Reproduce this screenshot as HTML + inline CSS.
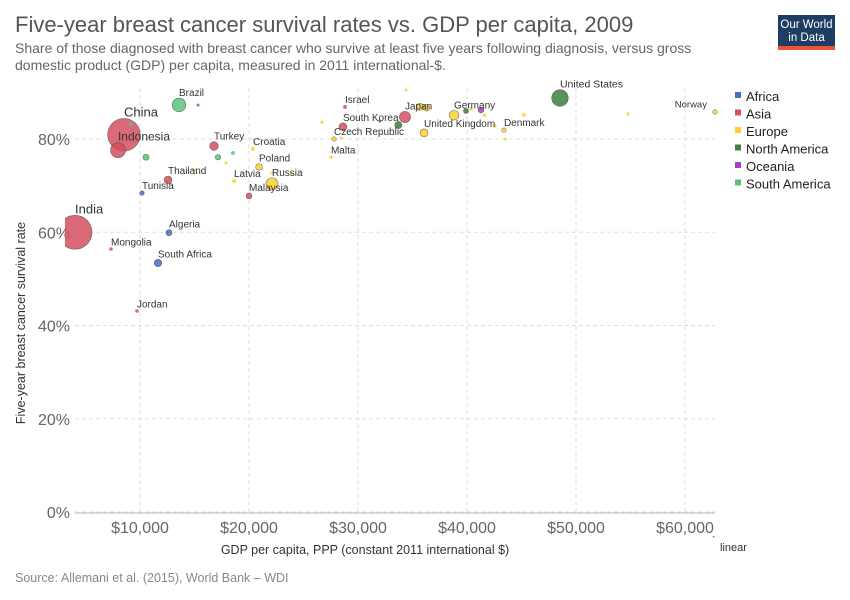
<!DOCTYPE html>
<html><head><meta charset="utf-8"><style>
body{margin:0;background:#fff;font-family:"Liberation Sans",sans-serif;}
svg{display:block}
</style></head><body>
<svg id="chart" width="850" height="600" xmlns="http://www.w3.org/2000/svg" font-family="Liberation Sans, sans-serif">
<defs><clipPath id="plotclip"><rect x="65" y="80" width="660" height="440"/></clipPath></defs>
<text x="15" y="32" font-size="22" fill="#555">Five-year breast cancer survival rates vs. GDP per capita, 2009</text>
<text x="15" y="53" font-size="14" fill="#666">Share of those diagnosed with breast cancer who survive at least five years following diagnosis, versus gross</text>
<text x="15" y="70" font-size="14" fill="#666">domestic product (GDP) per capita, measured in 2011 international-$.</text>
<g>
<rect x="778" y="15" width="57" height="35" fill="#1d3d63"/>
<rect x="778" y="46" width="57" height="4" fill="#e9543a"/>
<text x="806.5" y="28" font-size="11.5" fill="#fff" text-anchor="middle">Our World</text>
<text x="806.5" y="41" font-size="11.5" fill="#fff" text-anchor="middle">in Data</text>
</g>
<g id="grid"></g>
<g id="points" clip-path="url(#plotclip)"></g>
<g id="labels"></g>
<text x="365" y="554" font-size="12.5" fill="#333" text-anchor="middle">GDP per capita, PPP (constant 2011 international $)</text>
<text transform="translate(25,323) rotate(-90)" font-size="12.5" fill="#333" text-anchor="middle">Five-year breast cancer survival rate</text>
<g><text x="712" y="544" font-size="11" fill="#333">ˋ</text><text x="720" y="551" font-size="11" fill="#333">linear</text></g>
<text x="15" y="582" font-size="12.5" fill="#888">Source: Allemani et al. (2015), World Bank – WDI</text>
<g id="legend"></g>
</svg>
<script>
const regions=["Africa","Asia","Europe","North America","Oceania","South America"];
const regionColors=["#4a6fc0","#d4505f","#fcd12e","#3c803c","#a541c0","#5ec27c"];
const xTicks=[10000,20000,30000,40000,50000,60000];
const xTickLabels=["$10,000","$20,000","$30,000","$40,000","$50,000","$60,000"];
const yTicks=[0,20,40,60,80];
const yTickLabels=["0%","20%","40%","60%","80%"];
const names=["India","China","Indonesia","Mongolia","Jordan","Tunisia","South Africa","Algeria","Thailand","","","Brazil","","Turkey","","","","Croatia","Poland","Latvia","Russia","Malaysia","","","Malta","Czech Republic","","Israel","South Korea","","","","","Japan","","","United Kingdom","Germany","","","","","","Denmark","","","United States","","Norway",""];
const gdp=[4040,8530,7980,7340,9720,10180,11650,12660,12570,9170,10550,13580,15320,16790,17160,18530,17890,20370,20920,18620,22110,20000,22100,23900,27520,27800,28450,28810,28620,26700,34400,32000,33700,34310,35660,36300,36060,38810,39910,40370,41280,41600,42560,43390,43530,45200,48530,54770,62750,14950];
const rate=[60.0,80.9,77.6,56.4,43.1,68.4,53.4,59.9,71.2,83.2,76.1,87.3,87.3,78.5,76.1,77.0,74.9,77.9,74.0,71.0,70.4,67.8,72.7,72.5,76.1,80.0,80.2,86.9,82.6,83.6,90.5,83.8,83.0,84.7,86.9,86.7,81.3,85.1,86.0,86.4,86.2,85.1,82.8,81.9,80.0,85.2,88.8,85.4,85.8,73.3];
const pop=[920,850,180,10,10,16,45,30,50,12,30,150,3,60,25,12,8,12,35,12,115,28,5,5,10,16,5,12,50,8,5,5,40,100,40,35,50,75,20,10,25,10,10,16,5,12,220,8,16,5];
const region=[1,1,1,1,1,0,0,0,1,5,5,5,0,1,5,5,2,2,2,2,2,1,2,2,2,2,2,1,1,2,2,4,3,1,2,2,2,2,3,2,4,2,2,2,2,2,3,2,2,2];
const labelSize=[13,13,12,10,10,10,10,10,10,0,0,10,0,10,0,0,0,10,10,10,10,10,0,0,10,10,0,10,10,0,0,0,0,10,0,0,10,10,0,0,0,0,0,10,0,0,10.5,0,9.5,0];
const NS="http://www.w3.org/2000/svg";
const L=65,R=715,T=88,B=512;
function xs(v){return 140+(v-10000)*0.0109;}
function ys(v){return B-v*4.6625;}
function rs(p){return Math.max(1.5,Math.sqrt(p)*0.56);}
function mk(t,a){const e=document.createElementNS(NS,t);for(const k in a)e.setAttribute(k,a[k]);return e;}
const grid=document.getElementById('grid');
yTicks.forEach((v,i)=>{
 const l=mk('line',{x1:L+10,x2:R,y1:ys(v),y2:ys(v),stroke:'#ddd','stroke-dasharray':'4,3'});
 
 
 grid.appendChild(l);
 const t=mk('text',{x:70,y:ys(v)+6,'font-size':16,fill:'#666','text-anchor':'end'});t.textContent=yTickLabels[i];
 
 
 grid.appendChild(t);
});
xTicks.forEach((v,i)=>{
 const l=mk('line',{x1:xs(v),x2:xs(v),y1:T,y2:B,stroke:'#ddd','stroke-dasharray':'4,3'});
 
 
 grid.appendChild(l);
 const t=mk('text',{x:xs(v),y:533,'font-size':16,fill:'#666','text-anchor':'middle'});t.textContent=xTickLabels[i];
 
 
 grid.appendChild(t);
});
const bl=mk('line',{x1:L+10,x2:R,y1:B+1,y2:B+1,stroke:'#bbb'});


grid.appendChild(bl);
const pts=document.getElementById('points'),lab=document.getElementById('labels');
const order=gdp.map((_,i)=>i).sort((a,b)=>pop[b]-pop[a]);
order.forEach(i=>{
 const r=rs(pop[i]);
 const c=mk('circle',{cx:xs(gdp[i]),cy:ys(rate[i]),r:r,fill:regionColors[region[i]],'fill-opacity':0.85,stroke:r>2?'#444':'none','stroke-width':0.6,'stroke-opacity':0.7});
 
 
 pts.appendChild(c);
 if(names[i]&&labelSize[i]){
  const anchorEnd=names[i]==="Norway";
  const t=mk('text',{x:xs(gdp[i])+(anchorEnd?-8:0),y:ys(rate[i])-r-2,'font-size':labelSize[i],fill:'#333','text-anchor':anchorEnd?'end':'start'});
  t.textContent=names[i];
  
  
  lab.appendChild(t);
 }
});
const lg=document.getElementById('legend');
regions.forEach((n,i)=>{
 const g=mk('g',{});
 
 
 g.appendChild(mk('rect',{x:735,y:92+i*17.5,width:6,height:6,fill:regionColors[i]}));
 const t=mk('text',{x:746,y:101+i*17.5,'font-size':13,fill:'#222'});t.textContent=n;g.appendChild(t);
 lg.appendChild(g);
});
</script>
</body></html>
